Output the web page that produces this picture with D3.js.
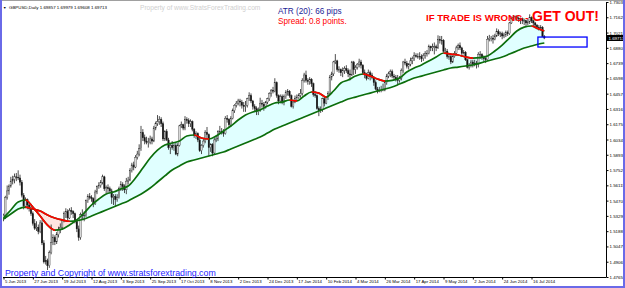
<!DOCTYPE html>
<html>
<head>
<meta charset="utf-8">
<script src="https://cdn.jsdelivr.net/npm/d3@7"></script>
<style>
  body { margin: 0; background: #fff; }
  svg { display: block; font-family: 'Liberation Sans', Arial, sans-serif; }
</style>
</head>
<body>
<svg class="mt4" width="625" height="288"></svg>
<script>
// bottom date labels, one every 16 daily bars
const dateLabels = ['5 Jun 2013', '27 Jun 2013', '19 Jul 2013', '12 Aug 2013', '3 Sep 2013', '25 Sep 2013',
  '17 Oct 2013', '8 Nov 2013', '2 Dec 2013', '24 Dec 2013', '17 Jan 2014', '10 Feb 2014', '4 Mar 2014',
  '26 Mar 2014', '17 Apr 2014', '9 May 2014', '2 Jun 2014', '24 Jun 2014', '16 Jul 2014'];
const dateTickBars = [0, 16, 32, 48, 64, 80, 96, 112, 128, 144, 160, 176, 192, 208, 224, 240, 256, 272, 288];

// right price scale labels
const priceTicks = [1.47655, 1.49065, 1.50475, 1.51885, 1.53295, 1.54705, 1.56115, 1.57525, 1.58935, 1.60345,
  1.61755, 1.63165, 1.64575, 1.65985, 1.67395, 1.68805, 1.70215, 1.71625, 1.73035];

// GBPUSD daily, 5 Jun 2013 .. 25 Jul 2014
const opens = [
  1.5305, 1.5335, 1.5500, 1.5560, 1.5605, 1.5650, 1.5665, 1.5690, 1.5685, 1.5680,
  1.5640, 1.5520, 1.5420, 1.5480, 1.5430, 1.5400, 1.5350, 1.5260, 1.5215, 1.5225,
  1.5185, 1.5265, 1.5080, 1.4905, 1.4915, 1.4870, 1.4990, 1.5085, 1.5130, 1.5090,
  1.5155, 1.5200, 1.5225, 1.5285, 1.5350, 1.5370, 1.5310, 1.5380, 1.5370, 1.5350,
  1.5280, 1.5210, 1.5130, 1.5340, 1.5330, 1.5335, 1.5470, 1.5510, 1.5500, 1.5490,
  1.5440, 1.5550, 1.5600, 1.5610, 1.5640, 1.5690, 1.5580, 1.5590, 1.5580, 1.5560,
  1.5500, 1.5510, 1.5480, 1.5500, 1.5580, 1.5620, 1.5600, 1.5570, 1.5650, 1.5660,
  1.5750, 1.5800, 1.5780, 1.5870, 1.5900, 1.5950, 1.6100, 1.6050, 1.6020, 1.6010,
  1.6010, 1.6040, 1.6020, 1.6140, 1.6180, 1.6200, 1.6220, 1.6180, 1.6040, 1.6110,
  1.6030, 1.5960, 1.5980, 1.5960, 1.5980, 1.5900, 1.5980, 1.6160, 1.6170, 1.6140,
  1.6220, 1.6210, 1.6180, 1.6200, 1.6130, 1.6070, 1.6090, 1.6030, 1.5930, 1.5980,
  1.6020, 1.6100, 1.6080, 1.5960, 1.5990, 1.5910, 1.6030, 1.6040, 1.6110, 1.6110,
  1.6110, 1.6090, 1.6230, 1.6220, 1.6170, 1.6230, 1.6300, 1.6350, 1.6370, 1.6390,
  1.6380, 1.6350, 1.6340, 1.6350, 1.6410, 1.6440, 1.6390, 1.6340, 1.6320, 1.6290,
  1.6310, 1.6370, 1.6360, 1.6340, 1.6380, 1.6410, 1.6460, 1.6490, 1.6480, 1.6560,
  1.6440, 1.6390, 1.6430, 1.6380, 1.6430, 1.6470, 1.6480, 1.6440, 1.6340, 1.6380,
  1.6410, 1.6420, 1.6440, 1.6460, 1.6580, 1.6630, 1.6580, 1.6570, 1.6590, 1.6550,
  1.6450, 1.6440, 1.6320, 1.6300, 1.6310, 1.6410, 1.6370, 1.6420, 1.6460, 1.6610,
  1.6640, 1.6750, 1.6760, 1.6680, 1.6680, 1.6650, 1.6670, 1.6690, 1.6670, 1.6640,
  1.6630, 1.6750, 1.6680, 1.6700, 1.6730, 1.6750, 1.6720, 1.6650, 1.6630, 1.6600,
  1.6650, 1.6630, 1.6610, 1.6560, 1.6500, 1.6480, 1.6490, 1.6490, 1.6490, 1.6560,
  1.6620, 1.6640, 1.6660, 1.6620, 1.6610, 1.6590, 1.6580, 1.6600, 1.6670, 1.6750,
  1.6740, 1.6710, 1.6730, 1.6760, 1.6780, 1.6810, 1.6800, 1.6800, 1.6800, 1.6780,
  1.6810, 1.6830, 1.6830, 1.6890, 1.6880, 1.6890, 1.6890, 1.6880, 1.6960, 1.6950,
  1.6950, 1.6850, 1.6850, 1.6800, 1.6800, 1.6750, 1.6800, 1.6830, 1.6880, 1.6900,
  1.6880, 1.6830, 1.6840, 1.6770, 1.6700, 1.6720, 1.6750, 1.6730, 1.6740, 1.6730,
  1.6820, 1.6820, 1.6790, 1.6780, 1.6770, 1.6960, 1.6970, 1.6970, 1.6960, 1.6990,
  1.7030, 1.7010, 1.7010, 1.6990, 1.7000, 1.7020, 1.7010, 1.7110, 1.7150, 1.7160,
  1.7170, 1.7150, 1.7150, 1.7150, 1.7130, 1.7130, 1.7110, 1.7120, 1.7160, 1.7130,
  1.7110, 1.7090, 1.7070, 1.7060, 1.7070, 1.69857
];
const highs = [
  1.5350, 1.5515, 1.5610, 1.5620, 1.5690, 1.5700, 1.5720, 1.5725, 1.5750, 1.5710,
  1.5660, 1.5540, 1.5500, 1.5490, 1.5460, 1.5420, 1.5370, 1.5300, 1.5280, 1.5250,
  1.5290, 1.5290, 1.5105, 1.4960, 1.4935, 1.5010, 1.5250, 1.5160, 1.5150, 1.5180,
  1.5230, 1.5260, 1.5300, 1.5370, 1.5400, 1.5390, 1.5400, 1.5410, 1.5380, 1.5360,
  1.5300, 1.5240, 1.5360, 1.5390, 1.5370, 1.5480, 1.5530, 1.5540, 1.5520, 1.5500,
  1.5570, 1.5610, 1.5640, 1.5660, 1.5710, 1.5700, 1.5610, 1.5620, 1.5600, 1.5580,
  1.5530, 1.5530, 1.5530, 1.5600, 1.5650, 1.5640, 1.5620, 1.5680, 1.5690, 1.5770,
  1.5820, 1.5830, 1.5890, 1.5930, 1.5990, 1.6160, 1.6130, 1.6080, 1.6060, 1.6050,
  1.6070, 1.6060, 1.6160, 1.6200, 1.6260, 1.6250, 1.6240, 1.6200, 1.6120, 1.6130,
  1.6050, 1.6000, 1.6020, 1.6000, 1.6010, 1.6000, 1.6170, 1.6200, 1.6180, 1.6250,
  1.6240, 1.6230, 1.6220, 1.6210, 1.6140, 1.6110, 1.6100, 1.6050, 1.5990, 1.6040,
  1.6120, 1.6150, 1.6090, 1.6000, 1.6000, 1.6050, 1.6070, 1.6120, 1.6160, 1.6140,
  1.6130, 1.6250, 1.6260, 1.6230, 1.6250, 1.6320, 1.6360, 1.6390, 1.6410, 1.6410,
  1.6400, 1.6380, 1.6390, 1.6420, 1.6470, 1.6460, 1.6400, 1.6360, 1.6340, 1.6330,
  1.6420, 1.6400, 1.6380, 1.6390, 1.6420, 1.6470, 1.6500, 1.6520, 1.6600, 1.6570,
  1.6450, 1.6450, 1.6450, 1.6450, 1.6490, 1.6500, 1.6490, 1.6450, 1.6400, 1.6440,
  1.6450, 1.6460, 1.6500, 1.6600, 1.6650, 1.6670, 1.6600, 1.6610, 1.6600, 1.6560,
  1.6480, 1.6450, 1.6340, 1.6340, 1.6420, 1.6430, 1.6430, 1.6480, 1.6630, 1.6660,
  1.6760, 1.6823, 1.6770, 1.6710, 1.6690, 1.6700, 1.6710, 1.6720, 1.6690, 1.6680,
  1.6760, 1.6760, 1.6720, 1.6740, 1.6780, 1.6770, 1.6730, 1.6680, 1.6650, 1.6680,
  1.6670, 1.6650, 1.6620, 1.6580, 1.6520, 1.6520, 1.6530, 1.6550, 1.6580, 1.6640,
  1.6660, 1.6680, 1.6680, 1.6640, 1.6630, 1.6630, 1.6620, 1.6690, 1.6760, 1.6780,
  1.6760, 1.6740, 1.6790, 1.6800, 1.6840, 1.6830, 1.6830, 1.6840, 1.6820, 1.6830,
  1.6850, 1.6860, 1.6910, 1.6900, 1.6920, 1.6930, 1.6910, 1.6996, 1.6990, 1.6990,
  1.6960, 1.6880, 1.6870, 1.6830, 1.6820, 1.6810, 1.6850, 1.6900, 1.6920, 1.6930,
  1.6890, 1.6860, 1.6850, 1.6780, 1.6740, 1.6770, 1.6770, 1.6770, 1.6760, 1.6840,
  1.6850, 1.6830, 1.6810, 1.6800, 1.6990, 1.7000, 1.6990, 1.7000, 1.7010, 1.7060,
  1.7050, 1.7030, 1.7030, 1.7020, 1.7040, 1.7040, 1.7120, 1.7170, 1.7180, 1.7180,
  1.7180, 1.7170, 1.7160, 1.7160, 1.7150, 1.7140, 1.7150, 1.7190, 1.7170, 1.7140,
  1.7120, 1.7100, 1.7090, 1.7090, 1.7080, 1.69979
];
const lows = [
  1.5280, 1.5300, 1.5480, 1.5525, 1.5590, 1.5620, 1.5630, 1.5650, 1.5660, 1.5610,
  1.5500, 1.5390, 1.5400, 1.5390, 1.5370, 1.5330, 1.5240, 1.5200, 1.5190, 1.5160,
  1.5170, 1.5060, 1.4890, 1.4880, 1.4830, 1.4850, 1.4975, 1.5060, 1.5060, 1.5070,
  1.5130, 1.5170, 1.5200, 1.5270, 1.5310, 1.5290, 1.5300, 1.5340, 1.5310, 1.5260,
  1.5180, 1.5100, 1.5110, 1.5290, 1.5280, 1.5320, 1.5450, 1.5480, 1.5460, 1.5410,
  1.5430, 1.5530, 1.5580, 1.5590, 1.5620, 1.5560, 1.5540, 1.5540, 1.5540, 1.5440,
  1.5430, 1.5420, 1.5460, 1.5490, 1.5560, 1.5560, 1.5540, 1.5530, 1.5620, 1.5650,
  1.5730, 1.5750, 1.5770, 1.5850, 1.5880, 1.5930, 1.6020, 1.5990, 1.5990, 1.5960,
  1.5990, 1.5990, 1.6010, 1.6120, 1.6160, 1.6170, 1.6150, 1.6020, 1.6020, 1.6020,
  1.5940, 1.5900, 1.5940, 1.5930, 1.5890, 1.5880, 1.5970, 1.6140, 1.6120, 1.6120,
  1.6180, 1.6150, 1.6150, 1.6110, 1.6050, 1.6040, 1.6010, 1.5920, 1.5900, 1.5960,
  1.6000, 1.6040, 1.5880, 1.5920, 1.5880, 1.5900, 1.6010, 1.6020, 1.6090, 1.6080,
  1.6060, 1.6080, 1.6190, 1.6150, 1.6150, 1.6220, 1.6280, 1.6330, 1.6350, 1.6340,
  1.6320, 1.6290, 1.6290, 1.6330, 1.6390, 1.6370, 1.6310, 1.6290, 1.6260, 1.6260,
  1.6290, 1.6330, 1.6300, 1.6320, 1.6360, 1.6390, 1.6430, 1.6460, 1.6470, 1.6420,
  1.6360, 1.6370, 1.6360, 1.6350, 1.6410, 1.6440, 1.6420, 1.6330, 1.6320, 1.6370,
  1.6390, 1.6410, 1.6420, 1.6440, 1.6560, 1.6560, 1.6540, 1.6540, 1.6520, 1.6430,
  1.6420, 1.6310, 1.6250, 1.6280, 1.6290, 1.6340, 1.6360, 1.6400, 1.6450, 1.6580,
  1.6620, 1.6730, 1.6660, 1.6650, 1.6620, 1.6610, 1.6640, 1.6650, 1.6610, 1.6580,
  1.6620, 1.6630, 1.6640, 1.6680, 1.6700, 1.6690, 1.6630, 1.6600, 1.6580, 1.6590,
  1.6580, 1.6590, 1.6530, 1.6490, 1.6460, 1.6470, 1.6470, 1.6480, 1.6480, 1.6540,
  1.6600, 1.6610, 1.6600, 1.6590, 1.6570, 1.6540, 1.6560, 1.6580, 1.6650, 1.6720,
  1.6690, 1.6680, 1.6710, 1.6730, 1.6760, 1.6790, 1.6780, 1.6770, 1.6750, 1.6760,
  1.6780, 1.6800, 1.6820, 1.6850, 1.6850, 1.6820, 1.6850, 1.6870, 1.6920, 1.6910,
  1.6840, 1.6820, 1.6780, 1.6770, 1.6730, 1.6740, 1.6790, 1.6810, 1.6860, 1.6860,
  1.6810, 1.6820, 1.6760, 1.6690, 1.6680, 1.6700, 1.6700, 1.6710, 1.6690, 1.6700,
  1.6780, 1.6770, 1.6750, 1.6740, 1.6760, 1.6940, 1.6940, 1.6920, 1.6950, 1.6980,
  1.6990, 1.6980, 1.6960, 1.6970, 1.6980, 1.6990, 1.7000, 1.7100, 1.7130, 1.7130,
  1.7130, 1.7120, 1.7100, 1.7100, 1.7090, 1.7080, 1.7090, 1.7100, 1.7110, 1.7080,
  1.7060, 1.7050, 1.7040, 1.7040, 1.6980, 1.69608
];
const closes = [
  1.5335, 1.5500, 1.5560, 1.5605, 1.5650, 1.5665, 1.5690, 1.5685, 1.5680, 1.5640,
  1.5520, 1.5420, 1.5480, 1.5430, 1.5400, 1.5350, 1.5260, 1.5215, 1.5225, 1.5185,
  1.5265, 1.5080, 1.4905, 1.4915, 1.4870, 1.4990, 1.5085, 1.5130, 1.5090, 1.5155,
  1.5200, 1.5225, 1.5285, 1.5350, 1.5370, 1.5310, 1.5380, 1.5370, 1.5350, 1.5280,
  1.5210, 1.5130, 1.5340, 1.5330, 1.5335, 1.5470, 1.5510, 1.5500, 1.5490, 1.5440,
  1.5550, 1.5600, 1.5610, 1.5640, 1.5690, 1.5580, 1.5590, 1.5580, 1.5560, 1.5500,
  1.5510, 1.5480, 1.5500, 1.5580, 1.5620, 1.5600, 1.5570, 1.5650, 1.5660, 1.5750,
  1.5800, 1.5780, 1.5870, 1.5900, 1.5950, 1.6100, 1.6050, 1.6020, 1.6010, 1.6010,
  1.6040, 1.6020, 1.6140, 1.6180, 1.6200, 1.6220, 1.6180, 1.6040, 1.6110, 1.6030,
  1.5960, 1.5980, 1.5960, 1.5980, 1.5900, 1.5980, 1.6160, 1.6170, 1.6140, 1.6220,
  1.6210, 1.6180, 1.6200, 1.6130, 1.6070, 1.6090, 1.6030, 1.5930, 1.5980, 1.6020,
  1.6100, 1.6080, 1.5960, 1.5990, 1.5910, 1.6030, 1.6040, 1.6110, 1.6110, 1.6110,
  1.6090, 1.6230, 1.6220, 1.6170, 1.6230, 1.6300, 1.6350, 1.6370, 1.6390, 1.6380,
  1.6350, 1.6340, 1.6350, 1.6410, 1.6440, 1.6390, 1.6340, 1.6320, 1.6290, 1.6310,
  1.6370, 1.6360, 1.6340, 1.6380, 1.6410, 1.6460, 1.6490, 1.6480, 1.6560, 1.6440,
  1.6390, 1.6430, 1.6380, 1.6430, 1.6470, 1.6480, 1.6440, 1.6340, 1.6380, 1.6410,
  1.6420, 1.6440, 1.6460, 1.6580, 1.6630, 1.6580, 1.6570, 1.6590, 1.6550, 1.6450,
  1.6440, 1.6320, 1.6300, 1.6310, 1.6410, 1.6370, 1.6420, 1.6460, 1.6610, 1.6640,
  1.6750, 1.6760, 1.6680, 1.6680, 1.6650, 1.6670, 1.6690, 1.6670, 1.6640, 1.6630,
  1.6750, 1.6680, 1.6700, 1.6730, 1.6750, 1.6720, 1.6650, 1.6630, 1.6600, 1.6650,
  1.6630, 1.6610, 1.6560, 1.6500, 1.6480, 1.6490, 1.6490, 1.6490, 1.6560, 1.6620,
  1.6640, 1.6660, 1.6620, 1.6610, 1.6590, 1.6580, 1.6600, 1.6670, 1.6750, 1.6740,
  1.6710, 1.6730, 1.6760, 1.6780, 1.6810, 1.6800, 1.6800, 1.6800, 1.6780, 1.6810,
  1.6830, 1.6830, 1.6890, 1.6880, 1.6890, 1.6890, 1.6880, 1.6960, 1.6950, 1.6950,
  1.6850, 1.6850, 1.6800, 1.6800, 1.6750, 1.6800, 1.6830, 1.6880, 1.6900, 1.6880,
  1.6830, 1.6840, 1.6770, 1.6700, 1.6720, 1.6750, 1.6730, 1.6740, 1.6730, 1.6820,
  1.6820, 1.6790, 1.6780, 1.6770, 1.6960, 1.6970, 1.6970, 1.6960, 1.6990, 1.7030,
  1.7010, 1.7010, 1.6990, 1.7000, 1.7020, 1.7010, 1.7110, 1.7150, 1.7160, 1.7170,
  1.7150, 1.7150, 1.7150, 1.7130, 1.7130, 1.7110, 1.7120, 1.7160, 1.7130, 1.7110,
  1.7090, 1.7070, 1.7060, 1.7070, 1.6986, 1.69713
];

// moving averages every 4 bars
const maBars = [0, 4, 8, 12, 16, 20, 24, 28, 32, 36, 40, 44, 48, 52, 56, 60, 64, 68, 72, 76,
  80, 84, 88, 92, 96, 100, 104, 108, 112, 116, 120, 124, 128, 132, 136, 140, 144, 148, 152, 156,
  160, 164, 168, 172, 176, 180, 184, 188, 192, 196, 200, 204, 208, 212, 216, 220, 224, 228, 232, 236,
  240, 244, 248, 252, 256, 260, 264, 268, 272, 276, 280, 284, 288, 292, 295];
const fastMA = [1.5310, 1.5384, 1.5458, 1.5476, 1.5411, 1.5328, 1.5245, 1.5199, 1.5208, 1.5245,
  1.5292, 1.5356, 1.5430, 1.5485, 1.5531, 1.5550, 1.5578, 1.5605, 1.5679, 1.5771,
  1.5864, 1.5937, 1.5984, 1.6002, 1.6020, 1.6067, 1.6076, 1.6048, 1.6039, 1.6067,
  1.6113, 1.6159, 1.6214, 1.6260, 1.6288, 1.6307, 1.6343, 1.6371, 1.6380, 1.6399,
  1.6390, 1.6436, 1.6473, 1.6463, 1.6426, 1.6482, 1.6556, 1.6583, 1.6620, 1.6639,
  1.6620, 1.6593, 1.6574, 1.6580, 1.6602, 1.6657, 1.6694, 1.6722, 1.6759, 1.6796,
  1.6833, 1.6823, 1.6814, 1.6796, 1.6786, 1.6790, 1.6805, 1.6851, 1.6906, 1.6971,
  1.7036, 1.7072, 1.7082, 1.7054, 1.7036];
const slowMA = [1.5301, 1.5347, 1.5393, 1.5411, 1.5393, 1.5375, 1.5338, 1.5310, 1.5292, 1.5280,
  1.5285, 1.5301, 1.5328, 1.5356, 1.5384, 1.5411, 1.5439, 1.5467, 1.5504, 1.5541,
  1.5587, 1.5642, 1.5698, 1.5753, 1.5790, 1.5827, 1.5845, 1.5864, 1.5882, 1.5901,
  1.5919, 1.5947, 1.5974, 1.6002, 1.6030, 1.6057, 1.6094, 1.6131, 1.6159, 1.6187,
  1.6214, 1.6242, 1.6270, 1.6297, 1.6325, 1.6353, 1.6380, 1.6408, 1.6426, 1.6445,
  1.6463, 1.6482, 1.6500, 1.6519, 1.6546, 1.6574, 1.6602, 1.6620, 1.6639, 1.6657,
  1.6676, 1.6694, 1.6703, 1.6713, 1.6722, 1.6740, 1.6759, 1.6777, 1.6796, 1.6823,
  1.6851, 1.6879, 1.6897, 1.6916, 1.6925];

// "get out" box drawn right of the last bar (bar positions / prices)
const exitBox = { fromBar: 291.5, toBar: 318.3, top: 1.6980, bottom: 1.6888 };

const svg = d3.select('svg.mt4');
const plot = { left: 3, right: 606, top: 2, bottom: 277 };

const x = d3.scaleLinear()
            .domain([dateTickBars[0], dateTickBars[dateTickBars.length - 1]])
            .range([3.5, 531.5]);
const y = d3.scaleLinear()
            .domain([priceTicks[0], priceTicks[priceTicks.length - 1]])
            .range([plot.bottom, plot.top]);

const bars = closes.map((c, i) => ({ i: i, o: opens[i], h: highs[i], l: lows[i], c: c }));
const ma = maBars.map((b, k) => ({ i: b, fast: fastMA[k], slow: slowMA[k] }));

const defs = svg.append('defs');
defs.append('clipPath').attr('id', 'plotClip')
    .append('rect')
    .attr('x', plot.left).attr('y', plot.top)
    .attr('width', plot.right - plot.left).attr('height', plot.bottom - plot.top);

// x ranges where fast ma is under slow ma (bearish cloud)
const bearRanges = [];
for (let k = 0; k < ma.length - 1; k++) {
  const d0 = ma[k].fast - ma[k].slow, d1 = ma[k + 1].fast - ma[k + 1].slow;
  if (d0 >= 0 && d1 >= 0) continue;
  let a = ma[k].i, b = ma[k + 1].i;
  if (d0 >= 0) a = a + (b - a) * d0 / (d0 - d1);
  if (d1 >= 0) b = a + (b - a) * (-d0) / (d1 - d0);
  bearRanges.push([a, b]);
}
// x ranges where each line slopes down (drawn red)
function fallingRanges(key) {
  const out = [];
  for (let k = 0; k < ma.length - 1; k++) {
    if (ma[k + 1][key] < ma[k][key]) out.push([ma[k].i, ma[k + 1].i]);
  }
  return out;
}
function addClip(id, ranges) {
  const cp = defs.append('clipPath').attr('id', id);
  cp.selectAll('rect')
    .data(ranges)
    .enter()
    .append('rect')
    .attr('x', d => x(d[0]))
    .attr('y', plot.top)
    .attr('width', d => x(d[1]) - x(d[0]) + 0.3)
    .attr('height', plot.bottom - plot.top);
}
addClip('bearClip', bearRanges);
addClip('fastDown', fallingRanges('fast'));
addClip('slowDown', fallingRanges('slow'));

const chartG = svg.append('g').attr('clip-path', 'url(#plotClip)');

// cloud between the averages
const cloud = d3.area()
                .x(d => x(d.i))
                .y0(d => y(d.slow))
                .y1(d => y(d.fast))
                .curve(d3.curveMonotoneX);
chartG.append('path').datum(ma)
      .attr('d', cloud)
      .style('fill', '#e0ffff');
chartG.append('g').attr('clip-path', 'url(#bearClip)')
      .append('path').datum(ma)
      .attr('d', cloud)
      .style('fill', '#ffe4e1');

// candles: black wicks, white bull bodies, black bear bodies
const candleG = chartG.append('g').attr('class', 'candles');
candleG.selectAll('line.wick')
       .data(bars)
       .enter()
       .append('line')
       .attr('class', 'wick')
       .attr('x1', d => x(d.i)).attr('x2', d => x(d.i))
       .attr('y1', d => y(d.h)).attr('y2', d => y(d.l))
       .style('stroke', '#222')
       .style('stroke-width', 0.8);
candleG.selectAll('rect.body')
       .data(bars)
       .enter()
       .append('rect')
       .attr('class', 'body')
       .attr('x', d => x(d.i) - 0.75)
       .attr('width', 1.5)
       .attr('y', d => y(Math.max(d.o, d.c)))
       .attr('height', d => Math.max(0.6, Math.abs(y(d.o) - y(d.c))))
       .style('fill', d => d.c >= d.o ? '#d8d8d8' : '#111')
       .style('stroke', '#222')
       .style('stroke-width', 0.35);

// moving average lines
const fastLine = d3.line().x(d => x(d.i)).y(d => y(d.fast)).curve(d3.curveMonotoneX);
const slowLine = d3.line().x(d => x(d.i)).y(d => y(d.slow)).curve(d3.curveMonotoneX);
[[slowLine, 'slowDown'], [fastLine, 'fastDown']].forEach(([gen, clipId]) => {
  chartG.append('path').datum(ma)
        .attr('d', gen)
        .style('fill', 'none').style('stroke', '#0c6e0c').style('stroke-width', 1.7);
  chartG.append('g').attr('clip-path', `url(#${clipId})`)
        .append('path').datum(ma)
        .attr('d', gen)
        .style('fill', 'none').style('stroke', '#ff0000').style('stroke-width', 1.7);
});

// exit box
svg.append('rect')
   .attr('x', x(exitBox.fromBar))
   .attr('y', y(exitBox.top))
   .attr('width', x(exitBox.toBar) - x(exitBox.fromBar))
   .attr('height', y(exitBox.bottom) - y(exitBox.top))
   .style('fill', 'none').style('stroke', '#0000ff').style('stroke-width', 1.3);

// frame lines
svg.append('line').attr('x1', 0).attr('x2', 625).attr('y1', 0.5).attr('y2', 0.5)
   .style('stroke', '#a0a0a0');
svg.append('line').attr('x1', plot.left).attr('x2', plot.right).attr('y1', plot.bottom + 0.5).attr('y2', plot.bottom + 0.5)
   .style('stroke', '#000');

// price axis
const yAxis = d3.axisRight(y)
                .tickValues(priceTicks)
                .tickSize(2)
                .tickPadding(1)
                .tickFormat(d3.format('.5f'));
const yAxisG = svg.append('g')
                  .attr('transform', `translate(${plot.right + 0.5},0)`)
                  .call(yAxis);
yAxisG.select('.domain').attr('d', `M0,${plot.top}V${plot.bottom + 0.5}`).style('stroke', '#000');
yAxisG.selectAll('text').style('font-size', '4.4px').style('fill', '#000').attr('dy', '0.35em');

// current price tag
const lastClose = closes[closes.length - 1];
svg.append('rect')
   .attr('x', plot.right + 1).attr('y', y(lastClose) - 3)
   .attr('width', 17).attr('height', 6)
   .style('fill', '#000');
svg.append('text')
   .attr('x', plot.right + 2.5).attr('y', y(lastClose))
   .attr('dy', '0.35em')
   .text(d3.format('.5f')(lastClose))
   .style('font-size', '4.4px').style('fill', '#fff');

// date axis
const xAxis = d3.axisBottom(x)
                .tickValues(dateTickBars)
                .tickSize(2)
                .tickPadding(1)
                .tickFormat((d, i) => dateLabels[i]);
const xAxisG = svg.append('g')
                  .attr('transform', `translate(0,${plot.bottom + 0.5})`)
                  .call(xAxis);
xAxisG.select('.domain').remove();
xAxisG.selectAll('text')
      .attr('text-anchor', 'start')
      .attr('x', 1)
      .attr('y', 2.5)
      .style('font-size', '4.3px').style('fill', '#000');

// window border
svg.append('path')
   .attr('d', 'M1,0V287H624V0')
   .style('fill', 'none').style('stroke', '#6a6ae8').style('stroke-width', 2);

// header texts
svg.append('text').attr('x', 3).attr('y', 8.5).text('\u25BC')
   .style('font-size', '3.5px').style('fill', '#000');
svg.append('text').attr('x', 9).attr('y', 8.5)
   .text('GBPUSD,Daily  1.69857 1.69979 1.69608 1.69713')
   .style('font-size', '4.4px').style('fill', '#000');
svg.append('text').attr('x', 140).attr('y', 9.5)
   .text('Property of www.StratsForexTrading.com')
   .style('font-size', '6.6px').style('fill', '#cfcfcf');
svg.append('text').attr('x', 278).attr('y', 14)
   .text('ATR (20): 66 pips')
   .style('font-size', '8.2px').style('fill', '#1c1c96');
svg.append('text').attr('x', 278).attr('y', 23.5)
   .text('Spread: 0.8 points.')
   .style('font-size', '8.2px').style('fill', '#ff0000');
svg.append('text').attr('x', 426).attr('y', 21)
   .text('IF TRADE IS WRONG -')
   .style('font-size', '9.6px').style('font-weight', 'bold').style('fill', '#ff0000');
svg.append('text').attr('x', 532).attr('y', 21)
   .text('GET OUT!')
   .style('font-size', '14px').style('font-weight', 'bold').style('fill', '#ff0000');
svg.append('text').attr('x', 5).attr('y', 275.5)
   .text('Property and Copyright of www.stratsforextrading.com')
   .style('font-size', '8.8px').style('fill', '#2323ff');
</script>
</body>
</html>
